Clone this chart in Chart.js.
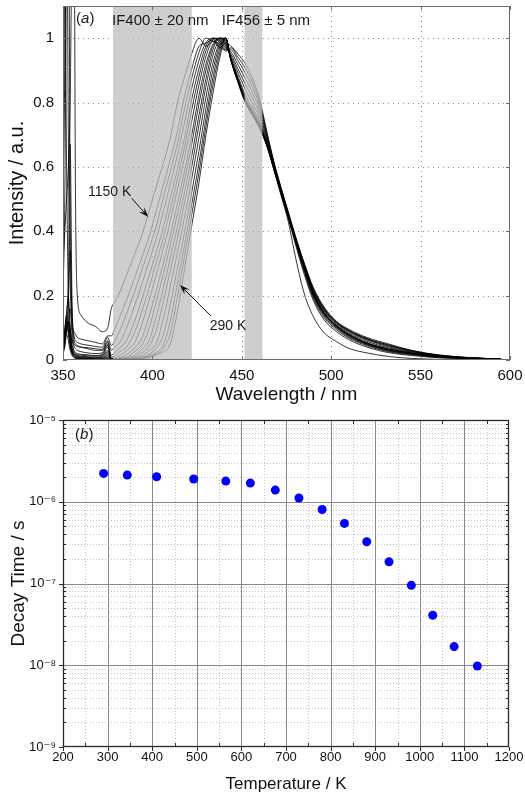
<!DOCTYPE html>
<html>
<head>
<meta charset="utf-8">
<script src="https://cdn.jsdelivr.net/npm/chart.js@4.4.0/dist/chart.umd.min.js"></script>
<style>
  html, body { margin: 0; padding: 0; background: #fff; }
  #wrap { position: relative; width: 525px; height: 793px; overflow: hidden; }
  #boxSpectra { position: absolute; left: 0; top: 0; width: 525px; height: 410px; }
  #boxDecay { position: absolute; left: 0; top: 400px; width: 525px; height: 393px; }
</style>
</head>
<body>
<div id="wrap">
  <div id="boxSpectra"><canvas id="chartSpectra" width="525" height="410"></canvas></div>
  <div id="boxDecay"><canvas id="chartDecay" width="525" height="393"></canvas></div>
</div>
<script>
// (a) espectros normalizados
const WAVE = [350, 351, 352, 353, 354, 355, 356, 357, 358, 360, 364, 368, 372, 375,
  377, 379, 382, 386, 390, 394, 398, 402, 406, 410, 414, 418, 422, 426, 430, 434, 438, 441,
  444, 448, 452, 456, 460, 464, 468, 472, 476, 480, 485, 490, 496, 503, 510, 520, 532, 545, 560, 578, 595];

const SPECTRA_T = [290, 344, 410, 493, 565, 620, 676, 729, 781, 831, 881, 931, 981, 1029, 1077, 1150];

const I290 = [0.02, 0.04, 0.08, 0.06, 0.03, 0.015, 0.008, 0.005, 0.003, 0.002, 0.001, 0.001, 0.001, 0.003,
  0, 0, 0, 0.001, 0.002, 0.003, 0.008, 0.015, 0.026, 0.05, 0.15, 0.283, 0.417, 0.55, 0.7, 0.833, 0.947, 1.0,
  0.93, 0.86, 0.80, 0.76, 0.72, 0.665, 0.59, 0.51, 0.43, 0.32, 0.205, 0.135, 0.085, 0.057, 0.036, 0.022, 0.011, 0.005, 0.002, 0.001, 0];
const I344 = [0.02, 0.05, 0.1, 0.08, 0.04, 0.02, 0.01, 0.006, 0.004, 0.003, 0.002, 0.002, 0.002, 0.005,
  0, 0, 0.001, 0.002, 0.003, 0.005, 0.01, 0.018, 0.036, 0.083, 0.197, 0.323, 0.452, 0.581, 0.727, 0.858, 0.961, 1.0,
  0.93, 0.862, 0.8, 0.76, 0.72, 0.665, 0.59, 0.515, 0.44, 0.36, 0.265, 0.185, 0.125, 0.088, 0.063, 0.04, 0.023, 0.014, 0.007, 0.003, 0.002];
const I410 = [0.03, 0.06, 0.11, 0.09, 0.05, 0.025, 0.012, 0.008, 0.006, 0.004, 0.003, 0.002, 0.003, 0.008,
  0, 0.001, 0.001, 0.002, 0.004, 0.007, 0.013, 0.023, 0.047, 0.121, 0.238, 0.358, 0.484, 0.611, 0.752, 0.881, 0.974, 1.0,
  0.93, 0.863, 0.802, 0.762, 0.722, 0.667, 0.592, 0.517, 0.442, 0.365, 0.272, 0.192, 0.132, 0.094, 0.068, 0.044, 0.026, 0.016, 0.008, 0.004, 0.002];
const I493 = [0.03, 0.05, 0.09, 0.12, 0.07, 0.03, 0.015, 0.01, 0.007, 0.005, 0.004, 0.003, 0.004, 0.012,
  0, 0.001, 0.002, 0.003, 0.005, 0.009, 0.017, 0.036, 0.076, 0.172, 0.286, 0.397, 0.521, 0.648, 0.783, 0.905, 0.983, 1.0,
  0.93, 0.864, 0.804, 0.764, 0.724, 0.669, 0.594, 0.519, 0.444, 0.368, 0.277, 0.197, 0.137, 0.098, 0.071, 0.047, 0.028, 0.018, 0.009, 0.005, 0.003];
const I565 = [0.04, 0.07, 0.12, 0.1, 0.05, 0.025, 0.015, 0.01, 0.008, 0.006, 0.005, 0.004, 0.005, 0.015,
  0.001, 0.001, 0.002, 0.004, 0.007, 0.013, 0.029, 0.05, 0.126, 0.229, 0.334, 0.445, 0.563, 0.69, 0.818, 0.926, 0.99, 1.0,
  0.931, 0.866, 0.806, 0.766, 0.726, 0.671, 0.596, 0.521, 0.446, 0.371, 0.281, 0.201, 0.141, 0.101, 0.074, 0.049, 0.03, 0.019, 0.01, 0.005, 0.003];
const I620 = [0.05, 0.08, 0.13, 0.11, 0.06, 0.03, 0.018, 0.013, 0.01, 0.008, 0.006, 0.005, 0.007, 0.02,
  0.001, 0.002, 0.003, 0.005, 0.01, 0.022, 0.042, 0.09, 0.179, 0.278, 0.378, 0.489, 0.6, 0.729, 0.851, 0.949, 0.996, 1.0,
  0.932, 0.867, 0.807, 0.767, 0.727, 0.672, 0.597, 0.522, 0.447, 0.372, 0.283, 0.203, 0.143, 0.103, 0.076, 0.05, 0.031, 0.02, 0.011, 0.005, 0.003];
const I676 = [0.05, 0.09, 0.14, 0.12, 0.07, 0.035, 0.02, 0.015, 0.012, 0.01, 0.008, 0.007, 0.009, 0.025,
  0.001, 0.002, 0.004, 0.007, 0.015, 0.033, 0.059, 0.131, 0.221, 0.317, 0.414, 0.524, 0.634, 0.759, 0.875, 0.966, 1.0, 0.995,
  0.933, 0.868, 0.808, 0.768, 0.728, 0.673, 0.598, 0.523, 0.448, 0.373, 0.284, 0.205, 0.145, 0.104, 0.077, 0.051, 0.032, 0.021, 0.011, 0.005, 0.003];
const I729 = [0.04, 0.07, 0.09, 0.12, 0.1, 0.04, 0.022, 0.017, 0.014, 0.012, 0.01, 0.009, 0.012, 0.03,
  0.002, 0.003, 0.005, 0.01, 0.026, 0.046, 0.096, 0.177, 0.266, 0.356, 0.454, 0.559, 0.671, 0.794, 0.902, 0.977, 1.0, 0.99,
  0.934, 0.87, 0.81, 0.77, 0.73, 0.674, 0.599, 0.524, 0.449, 0.374, 0.285, 0.206, 0.146, 0.105, 0.078, 0.052, 0.033, 0.021, 0.011, 0.006, 0.003];
const I781 = [0.04, 0.06, 0.1, 0.13, 0.16, 0.08, 0.03, 0.02, 0.017, 0.015, 0.013, 0.012, 0.015, 0.04,
  0.002, 0.004, 0.007, 0.018, 0.037, 0.067, 0.133, 0.213, 0.3, 0.387, 0.487, 0.588, 0.7, 0.821, 0.921, 0.983, 1.0, 0.985,
  0.936, 0.872, 0.815, 0.775, 0.733, 0.675, 0.6, 0.525, 0.45, 0.375, 0.286, 0.207, 0.147, 0.106, 0.079, 0.053, 0.034, 0.022, 0.012, 0.006, 0.003];
const I831 = [0.05, 0.08, 0.13, 0.2, 0.1, 0.045, 0.03, 0.024, 0.02, 0.018, 0.016, 0.014, 0.018, 0.045,
  0.004, 0.007, 0.014, 0.032, 0.053, 0.109, 0.183, 0.262, 0.343, 0.431, 0.531, 0.63, 0.742, 0.854, 0.944, 0.995, 1.0, 0.98,
  0.938, 0.879, 0.823, 0.783, 0.739, 0.677, 0.6, 0.525, 0.45, 0.376, 0.287, 0.208, 0.148, 0.107, 0.08, 0.054, 0.035, 0.022, 0.012, 0.006, 0.003];
const I881 = [0.05, 0.08, 0.12, 0.18, 0.34, 0.12, 0.05, 0.035, 0.03, 0.026, 0.022, 0.02, 0.022, 0.05,
  0.008, 0.014, 0.026, 0.044, 0.085, 0.149, 0.222, 0.3, 0.377, 0.468, 0.563, 0.662, 0.778, 0.88, 0.962, 1.0, 0.995, 0.975,
  0.944, 0.891, 0.84, 0.798, 0.751, 0.682, 0.601, 0.525, 0.45, 0.376, 0.29, 0.212, 0.152, 0.11, 0.083, 0.058, 0.038, 0.024, 0.013, 0.006, 0.003];
const I931 = [0.06, 0.1, 0.15, 0.25, 0.67, 0.2, 0.07, 0.05, 0.045, 0.04, 0.035, 0.03, 0.03, 0.055,
  0.015, 0.024, 0.038, 0.065, 0.12, 0.187, 0.259, 0.333, 0.41, 0.504, 0.593, 0.692, 0.81, 0.904, 0.976, 1.0, 0.99, 0.97,
  0.95, 0.903, 0.857, 0.815, 0.763, 0.688, 0.604, 0.527, 0.452, 0.377, 0.292, 0.214, 0.155, 0.113, 0.087, 0.062, 0.041, 0.026, 0.014, 0.006, 0.003];
const I981 = [0.3, 1.2, 0.6, 0.2, 0.1, 0.06, 0.05, 0.045, 0.042, 0.04, 0.038, 0.035, 0.033, 0.06,
  0.031, 0.04, 0.057, 0.106, 0.169, 0.234, 0.304, 0.374, 0.458, 0.547, 0.636, 0.738, 0.844, 0.93, 0.987, 1.0, 0.985, 0.965,
  0.957, 0.916, 0.874, 0.831, 0.776, 0.694, 0.607, 0.529, 0.454, 0.379, 0.294, 0.217, 0.157, 0.115, 0.089, 0.064, 0.044, 0.027, 0.014, 0.006, 0.003];
const I1029 = [0.2, 0.5, 1.3, 1.6, 0.5, 0.15, 0.08, 0.06, 0.055, 0.05, 0.046, 0.042, 0.04, 0.07,
  0.045, 0.06, 0.094, 0.151, 0.212, 0.278, 0.344, 0.413, 0.502, 0.584, 0.673, 0.782, 0.876, 0.955, 1.0, 0.99, 0.98, 0.96,
  0.964, 0.929, 0.891, 0.848, 0.789, 0.7, 0.61, 0.531, 0.456, 0.381, 0.296, 0.22, 0.16, 0.117, 0.091, 0.066, 0.046, 0.028, 0.015, 0.007, 0.003];
const I1077 = [0.5, 0.9, 1.5, 0.7, 0.25, 0.12, 0.09, 0.08, 0.07, 0.065, 0.06, 0.055, 0.05, 0.075,
  0.075, 0.097, 0.138, 0.193, 0.255, 0.317, 0.381, 0.46, 0.541, 0.622, 0.712, 0.821, 0.905, 0.974, 0.985, 0.995, 0.97, 0.965,
  0.97, 0.94, 0.906, 0.862, 0.8, 0.705, 0.613, 0.533, 0.458, 0.383, 0.298, 0.222, 0.162, 0.118, 0.092, 0.067, 0.047, 0.029, 0.015, 0.007, 0.003];
const I1150 = [0.3, 0.4, 0.5, 0.6, 0.8, 1.3, 1.6, 0.5, 0.2, 0.14, 0.115, 0.105, 0.088, 0.1,
  0.16, 0.18, 0.214, 0.271, 0.329, 0.386, 0.46, 0.536, 0.61, 0.69, 0.8, 0.88, 0.952, 1.0, 0.975, 0.99, 0.97, 0.985,
  0.975, 0.95, 0.92, 0.875, 0.81, 0.71, 0.615, 0.535, 0.46, 0.385, 0.3, 0.225, 0.165, 0.12, 0.095, 0.07, 0.05, 0.03, 0.016, 0.007, 0.003];

const SPECTRA = [I290, I344, I410, I493, I565, I620, I676, I729, I781, I831, I881, I931, I981, I1029, I1077, I1150];

// faixas dos filtros (nm)
const BANDS = [[378, 422], [451.5, 461.5]];
const WAVE_TICKS = [350, 400, 450, 500, 550, 600];
const INT_TICKS = [0, 0.2, 0.4, 0.6, 0.8, 1];

// (b) tempo de decaimento
const TEMP = [291, 344, 410, 493, 565, 620, 676, 729, 781, 831, 881, 931, 981, 1029, 1077, 1129];
const DECAY = [2.22e-6, 2.12e-6, 2.02e-6, 1.90e-6, 1.79e-6, 1.69e-6, 1.39e-6, 1.11e-6, 8.05e-7, 5.43e-7, 3.24e-7, 1.84e-7, 9.5e-8, 4.09e-8, 1.69e-8, 9.8e-9];
const TEMP_TICKS = [200, 300, 400, 500, 600, 700, 800, 900, 1000, 1100, 1200];
const DECAY_TICKS = [1e-9, 1e-8, 1e-7, 1e-6, 1e-5];

const FONT = '"Liberation Sans", Arial, Helvetica, "DejaVu Sans", sans-serif';
Chart.defaults.font.family = FONT;
Chart.defaults.color = '#111';

// funções

function linha(ctx, x0, y0, x1, y1) {
    ctx.beginPath();
    ctx.moveTo(x0, y0);
    ctx.lineTo(x1, y1);
    ctx.stroke();
}

function seta(ctx, x0, y0, x1, y1) {
    const ang = Math.atan2(y1 - y0, x1 - x0);
    const L = 10, W = 3.5;
    ctx.lineWidth = 1;
    linha(ctx, x0, y0, x1 - Math.cos(ang) * 6, y1 - Math.sin(ang) * 6);
    ctx.beginPath();
    ctx.moveTo(x1, y1);
    ctx.lineTo(x1 - L * Math.cos(ang) - W * Math.sin(ang), y1 - L * Math.sin(ang) + W * Math.cos(ang));
    ctx.lineTo(x1 - 0.6 * L * Math.cos(ang), y1 - 0.6 * L * Math.sin(ang));
    ctx.lineTo(x1 - L * Math.cos(ang) + W * Math.sin(ang), y1 - L * Math.sin(ang) - W * Math.cos(ang));
    ctx.closePath();
    ctx.fill();
}

function rotuloItalico(ctx, x, y, letra, size) {
    ctx.textBaseline = 'middle';
    ctx.textAlign = 'left';
    ctx.font = `${size}px ${FONT}`;
    ctx.fillText('(', x, y);
    let w = ctx.measureText('(').width;
    ctx.font = `italic ${size}px ${FONT}`;
    ctx.fillText(letra, x + w, y);
    w += ctx.measureText(letra).width;
    ctx.font = `${size}px ${FONT}`;
    ctx.fillText(')', x + w, y);
}

function sobrescrito(n) {
    const mapa = {'-': '\u207B', '0': '\u2070', '1': '\u00B9', '2': '\u00B2', '3': '\u00B3', '4': '\u2074',
        '5': '\u2075', '6': '\u2076', '7': '\u2077', '8': '\u2078', '9': '\u2079'};
    return String(n).split('').map(c => mapa[c]).join('');
}

// tira o padding automático dos rótulos para a área do gráfico ficar fixa
function semPadding(s) {
    s.paddingTop = 0; s.paddingBottom = 0; s.paddingLeft = 0; s.paddingRight = 0;
}

// decoração do gráfico (a)
const decoSpectra = {
    id: 'decoSpectra',
    beforeDatasetsDraw(chart) {
        const {ctx, chartArea: a, scales: {x, y}} = chart;
        ctx.save();
        ctx.strokeStyle = '#8c8c8c';
        ctx.lineWidth = 1;
        ctx.setLineDash([1, 4]);
        WAVE_TICKS.slice(1, -1).forEach(v => {
            const px = Math.round(x.getPixelForValue(v)) + 0.5;
            linha(ctx, px, a.top, px, a.bottom);
        });
        INT_TICKS.slice(1).forEach(v => {
            const py = Math.round(y.getPixelForValue(v)) + 0.5;
            linha(ctx, a.left, py, a.right, py);
        });
        ctx.restore();
    },
    afterDatasetsDraw(chart) {
        const {ctx, chartArea: a, scales: {x, y}} = chart;
        ctx.save();
        // faixas cinza por cima das curvas
        ctx.fillStyle = 'rgba(190,190,190,0.75)';
        BANDS.forEach(([b0, b1]) => {
            const x0 = x.getPixelForValue(b0), x1 = x.getPixelForValue(b1);
            ctx.fillRect(x0, a.top, x1 - x0, a.bottom - a.top);
        });
        // moldura e marcas
        ctx.strokeStyle = '#6e6e6e';
        ctx.lineWidth = 1;
        ctx.strokeRect(Math.round(a.left) + 0.5, Math.round(a.top) + 0.5, Math.round(a.right - a.left) - 1, Math.round(a.bottom - a.top) - 1);
        WAVE_TICKS.forEach(v => {
            const px = Math.round(x.getPixelForValue(v)) + 0.5;
            linha(ctx, px, a.bottom, px, a.bottom - 4);
            linha(ctx, px, a.top, px, a.top + 4);
        });
        INT_TICKS.forEach(v => {
            const py = Math.round(y.getPixelForValue(v)) + 0.5;
            linha(ctx, a.left, py, a.left + 4, py);
            linha(ctx, a.right, py, a.right - 4, py);
        });
        // textos
        ctx.fillStyle = '#1a1a1a';
        ctx.textBaseline = 'middle';
        ctx.textAlign = 'left';
        ctx.font = `15px ${FONT}`;
        ctx.fillText('IF400 \u00B1 20 nm', x.getPixelForValue(377.4), y.getPixelForValue(1.054));
        ctx.fillText('IF456 \u00B1 5 nm', x.getPixelForValue(438.8), y.getPixelForValue(1.054));
        rotuloItalico(ctx, x.getPixelForValue(357.3), y.getPixelForValue(1.06), 'a', 15);
        ctx.font = `14px ${FONT}`;
        ctx.fillText('1150 K', x.getPixelForValue(364), y.getPixelForValue(0.522));
        ctx.fillText('290 K', x.getPixelForValue(432.1), y.getPixelForValue(0.106));
        ctx.strokeStyle = '#111';
        ctx.fillStyle = '#111';
        seta(ctx, x.getPixelForValue(388.4), y.getPixelForValue(0.503), x.getPixelForValue(397.7), y.getPixelForValue(0.444));
        seta(ctx, x.getPixelForValue(432.7), y.getPixelForValue(0.137), x.getPixelForValue(415.4), y.getPixelForValue(0.233));
        ctx.restore();
    }
};

// decoração do gráfico (b)
const decoDecay = {
    id: 'decoDecay',
    beforeDatasetsDraw(chart) {
        const {ctx, chartArea: a, scales: {x, y}} = chart;
        ctx.save();
        ctx.lineWidth = 1;
        // grade menor pontilhada
        ctx.strokeStyle = '#c4c4c4';
        ctx.setLineDash([1, 2]);
        for (let t = 250; t < 1200; t += 100) {
            const px = Math.round(x.getPixelForValue(t)) + 0.5;
            linha(ctx, px, a.top, px, a.bottom);
        }
        DECAY_TICKS.slice(0, -1).forEach(d => {
            for (let m = 2; m <= 9; m++) {
                const py = Math.round(y.getPixelForValue(d * m)) + 0.5;
                linha(ctx, a.left, py, a.right, py);
            }
        });
        // grade principal
        ctx.setLineDash([]);
        ctx.strokeStyle = '#8a8a8a';
        TEMP_TICKS.slice(1, -1).forEach(t => {
            const px = Math.round(x.getPixelForValue(t)) + 0.5;
            linha(ctx, px, a.top, px, a.bottom);
        });
        DECAY_TICKS.slice(1, -1).forEach(d => {
            const py = Math.round(y.getPixelForValue(d)) + 0.5;
            linha(ctx, a.left, py, a.right, py);
        });
        ctx.restore();
    },
    afterDraw(chart) {
        const {ctx, chartArea: a, scales: {x, y}} = chart;
        ctx.save();
        ctx.strokeStyle = '#2a2a2a';
        ctx.lineWidth = 1.3;
        ctx.strokeRect(Math.round(a.left) + 0.5, Math.round(a.top) + 0.5, Math.round(a.right - a.left) - 1, Math.round(a.bottom - a.top) - 1);
        ctx.lineWidth = 1;
        TEMP_TICKS.forEach(t => {
            const px = Math.round(x.getPixelForValue(t)) + 0.5;
            linha(ctx, px, a.bottom, px, a.bottom + 4);
        });
        for (let t = 250; t < 1200; t += 100) {
            const px = Math.round(x.getPixelForValue(t)) + 0.5;
            linha(ctx, px, a.bottom, px, a.bottom - 4);
            linha(ctx, px, a.top, px, a.top + 4);
        }
        DECAY_TICKS.forEach((d, i) => {
            const py = Math.round(y.getPixelForValue(d)) + 0.5;
            linha(ctx, a.left - 4, py, a.left, py);
            if (i === DECAY_TICKS.length - 1) return;
            for (let m = 2; m <= 9; m++) {
                const pm = Math.round(y.getPixelForValue(d * m)) + 0.5;
                linha(ctx, a.left, pm, a.left + 3, pm);
                linha(ctx, a.right, pm, a.right - 3, pm);
            }
        });
        ctx.fillStyle = '#1a1a1a';
        rotuloItalico(ctx, x.getPixelForValue(227), y.getPixelForValue(6.6e-6), 'b', 15);
        ctx.restore();
    }
};

// gráfico (a)
new Chart(document.getElementById('chartSpectra'), {
    type: 'line',
    data: {
        datasets: SPECTRA.map((serie, i) => ({
            label: SPECTRA_T[i] + ' K',
            data: WAVE.map((w, j) => ({x: w, y: serie[j]})),
            borderColor: '#000', borderWidth: 0.8, pointRadius: 0,
            cubicInterpolationMode: 'monotone', fill: false
        }))
    },
    options: {
        responsive: false, animation: false, devicePixelRatio: 1,
        layout: {padding: {top: 6, right: 15, left: 0, bottom: 0}},
        plugins: {legend: {display: false}, tooltip: {enabled: false}},
        scales: {
            x: {
                type: 'linear', min: 350, max: 600,
                afterBuildTicks: s => { s.ticks = WAVE_TICKS.map(v => ({value: v})); },
                afterFit: s => { s.height = 50; semPadding(s); },
                grid: {display: false, drawTicks: false}, border: {display: false},
                ticks: {padding: 7, font: {size: 15}, color: '#111', maxRotation: 0, autoSkip: false, callback: v => String(v)},
                title: {display: true, text: 'Wavelength / nm', font: {size: 19}, color: '#111', padding: {top: 0, bottom: 4}}
            },
            y: {
                min: 0, max: 1.1,
                afterBuildTicks: s => { s.ticks = INT_TICKS.map(v => ({value: v})); },
                afterFit: s => { s.width = 63; semPadding(s); },
                grid: {display: false, drawTicks: false}, border: {display: false},
                ticks: {padding: 9, font: {size: 15}, color: '#111', callback: v => String(Math.round(v * 10) / 10)},
                title: {display: true, text: 'Intensity / a.u.', font: {size: 20}, color: '#111', padding: {top: 5, bottom: 0}}
            }
        }
    },
    plugins: [decoSpectra]
});

// gráfico (b)
new Chart(document.getElementById('chartDecay'), {
    type: 'scatter',
    data: {
        datasets: [{
            label: 'Decay time',
            data: TEMP.map((t, i) => ({x: t, y: DECAY[i]})),
            backgroundColor: '#0000ff', borderColor: '#0000ff', borderWidth: 0, pointRadius: 4.5
        }]
    },
    options: {
        responsive: false, animation: false, devicePixelRatio: 1,
        layout: {padding: {top: 20, right: 16, left: 0, bottom: 0}},
        plugins: {legend: {display: false}, tooltip: {enabled: false}},
        scales: {
            x: {
                type: 'linear', min: 200, max: 1200,
                afterBuildTicks: s => { s.ticks = TEMP_TICKS.map(v => ({value: v})); },
                afterFit: s => { s.height = 46; semPadding(s); },
                grid: {display: false, drawTicks: false}, border: {display: false},
                ticks: {padding: 3, font: {size: 13}, color: '#111', maxRotation: 0, autoSkip: false, callback: v => String(v)},
                title: {display: true, text: 'Temperature / K', font: {size: 17, lineHeight: 1}, color: '#111', padding: {top: 0, bottom: 0}}
            },
            y: {
                type: 'logarithmic', min: 1e-9, max: 1e-5,
                afterBuildTicks: s => { s.ticks = DECAY_TICKS.map(v => ({value: v})); },
                afterFit: s => { s.width = 63; semPadding(s); },
                grid: {display: false, drawTicks: false}, border: {display: false},
                ticks: {padding: 7, font: {size: 13}, color: '#111', callback: v => '10' + sobrescrito(Math.round(Math.log10(v)))},
                title: {display: true, text: 'Decay Time / s', font: {size: 19}, color: '#111', padding: {top: 7, bottom: 0}}
            }
        }
    },
    plugins: [decoDecay]
});
</script>
</body>
</html>
